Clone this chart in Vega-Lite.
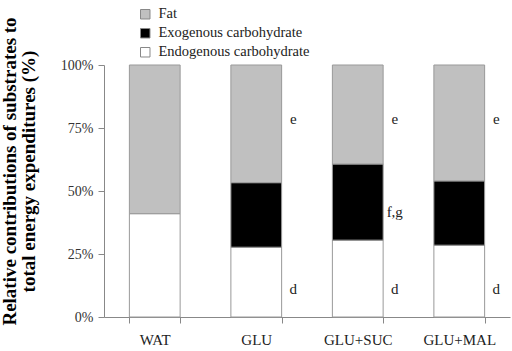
{
  "$schema": "https://vega.github.io/schema/vega-lite/v6.json",
  "autosize": "none",
  "width": 406,
  "height": 252,
  "padding": {"left": 104, "top": 65, "right": 2, "bottom": 34},
  "config": {
    "font": "Liberation Serif",
    "view": {"stroke": null},
    "axis": {"labelFont": "Liberation Serif", "titleFont": "Liberation Serif"},
    "legend": {"labelFont": "Liberation Serif"},
    "text": {"font": "Liberation Serif"}
  },
  "datasets": {
    "bars": [
      {"group": "WAT", "component": "Endogenous carbohydrate", "ord": 1, "value": 41.0},
      {"group": "WAT", "component": "Fat", "ord": 3, "value": 59.0},
      {"group": "GLU", "component": "Endogenous carbohydrate", "ord": 1, "value": 27.7},
      {"group": "GLU", "component": "Exogenous carbohydrate", "ord": 2, "value": 25.6},
      {"group": "GLU", "component": "Fat", "ord": 3, "value": 46.7},
      {"group": "GLU+SUC", "component": "Endogenous carbohydrate", "ord": 1, "value": 30.5},
      {"group": "GLU+SUC", "component": "Exogenous carbohydrate", "ord": 2, "value": 30.2},
      {"group": "GLU+SUC", "component": "Fat", "ord": 3, "value": 39.3},
      {"group": "GLU+MAL", "component": "Endogenous carbohydrate", "ord": 1, "value": 28.5},
      {"group": "GLU+MAL", "component": "Exogenous carbohydrate", "ord": 2, "value": 25.5},
      {"group": "GLU+MAL", "component": "Fat", "ord": 3, "value": 46.0}
    ],
    "notes": [
      {"group": "GLU", "label": "e", "pos": 78.6},
      {"group": "GLU", "label": "d", "pos": 11},
      {"group": "GLU+SUC", "label": "e", "pos": 78.6},
      {"group": "GLU+SUC", "label": "f,g", "pos": 41.7},
      {"group": "GLU+SUC", "label": "d", "pos": 11},
      {"group": "GLU+MAL", "label": "e", "pos": 78.6},
      {"group": "GLU+MAL", "label": "d", "pos": 11}
    ]
  },
  "layer": [
    {
      "data": {"name": "bars"},
      "mark": {"type": "bar", "stroke": "#999999", "strokeWidth": 1},
      "encoding": {
        "x": {
          "field": "group", "type": "nominal",
          "sort": ["WAT", "GLU", "GLU+SUC", "GLU+MAL"],
          "scale": {"paddingInner": 0.5, "paddingOuter": 0.25},
          "axis": {
            "title": null, "labelAngle": 0, "labelFontSize": 15, "labelColor": "#222",
            "labelFont": "Liberation Serif",
            "tickBand": "extent", "tickSize": 6, "labelPadding": 9,
            "domainColor": "#888", "tickColor": "#888"
          }
        },
        "y": {
          "field": "value", "type": "quantitative", "stack": "zero",
          "scale": {"domain": [0, 100]},
          "axis": {
            "values": [0, 25, 50, 75, 100],
            "labelExpr": "datum.value + '%'",
            "grid": false, "tickSize": 6, "labelPadding": 5, "labelFontSize": 14, "labelColor": "#333",
            "labelFont": "Liberation Serif",
            "domainColor": "#888", "tickColor": "#888",
            "title": ["Relative contributions of substrates to", "total energy expenditures (%)"],
            "titleFont": "Liberation Serif",
            "titleFontSize": 19, "titleFontWeight": "bold", "titleColor": "#000",
            "titleAngle": -90, "titleAlign": "center", "titleBaseline": "top",
            "titleX": -104, "titleY": 106, "titleLineHeight": 19
          }
        },
        "order": {"field": "ord", "type": "quantitative"},
        "color": {
          "field": "component", "type": "nominal",
          "scale": {
            "domain": ["Fat", "Exogenous carbohydrate", "Endogenous carbohydrate"],
            "range": ["#c0c0c0", "#000000", "#ffffff"]
          },
          "legend": {
            "title": null, "orient": "none", "legendX": 34, "legendY": -58,
            "symbolType": "square", "symbolSize": 90, "symbolStrokeColor": "#888",
            "symbolStrokeWidth": 1, "symbolOpacity": 1,
            "labelFont": "Liberation Serif",
            "labelFontSize": 14.5, "labelColor": "#222", "rowPadding": 4, "labelOffset": 6
          }
        }
      }
    },
    {
      "data": {"name": "notes"},
      "mark": {"type": "text", "dx": 37, "fontSize": 15, "font": "Liberation Serif", "fill": "#222", "align": "center", "baseline": "middle"},
      "encoding": {
        "x": {"field": "group", "type": "nominal", "sort": ["WAT", "GLU", "GLU+SUC", "GLU+MAL"]},
        "y": {"field": "pos", "type": "quantitative"},
        "text": {"field": "label"}
      }
    }
  ]
}
